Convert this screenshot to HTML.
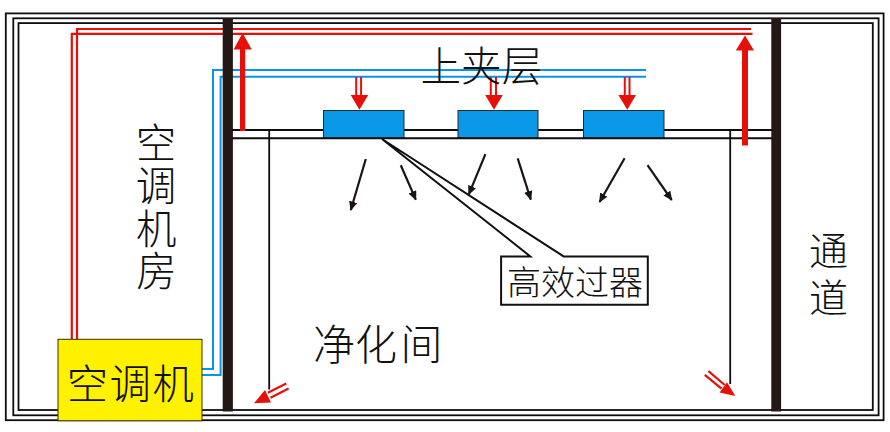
<!DOCTYPE html>
<html lang="zh-CN">
<head>
<meta charset="utf-8">
<title>净化间气流示意图</title>
<style>
html,body{margin:0;padding:0;background:#fff;}
body{width:890px;height:432px;overflow:hidden;}
svg{display:block;}
text{font-family:"Liberation Sans","Noto Sans CJK SC",sans-serif;font-weight:300;fill:#111;}
</style>
</head>
<body>
<svg width="890" height="432" viewBox="0 0 890 432">
<defs>
<marker id="ah" viewBox="0 0 9.5 8.4" refX="8.5" refY="4.2" markerWidth="9.5" markerHeight="8.4" orient="auto" markerUnits="userSpaceOnUse">
<path d="M0,0 L9.5,4.2 L0,8.4 Z" fill="#1a1413"/>
</marker>
</defs>
<rect x="0" y="0" width="890" height="432" fill="#ffffff"/>

<!-- outer triple frame -->
<g fill="none" stroke="#0d0d0d" stroke-width="1.8">
<rect x="5.8" y="13.4" width="877.8" height="406.8"/>
<rect x="13.3" y="18.3" width="865.3" height="397"/>
<rect x="18.5" y="23.1" width="854.3" height="386.9"/>
</g>

<!-- red supply ducts -->
<g fill="none" stroke="#e60f0a" stroke-width="2.2">
<path d="M77,339 V29 H751"/>
<path d="M71.8,339 V33.8 H752.5"/>
</g>

<!-- blue return ducts -->
<g fill="none" stroke="#0a94e6" stroke-width="2">
<path d="M202,369.1 H213 V70 H646"/>
<path d="M202,375 H220.6 V76.8 H646"/>
</g>

<!-- thick partition walls -->
<rect x="222.7" y="18" width="10.2" height="393.5" fill="#231815"/>
<rect x="771.3" y="18" width="9.8" height="393.5" fill="#231815"/>

<!-- ceiling -->
<g fill="none" stroke="#0d0d0d" stroke-width="1.8">
<path d="M232,130 H772"/>
<path d="M269.2,130 V389.4" stroke-width="1.8"/>
<path d="M730.2,130 V384" stroke-width="1.8"/>
</g>

<!-- filters -->
<g fill="#0a98e8" stroke="#2a2a2a" stroke-width="1">
<rect x="323.5" y="110.5" width="80.5" height="27.5"/>
<rect x="458" y="110.5" width="80" height="27.5"/>
<rect x="583.5" y="110.5" width="80.5" height="27.5"/>
</g>

<path d="M232,138.3 H772" fill="none" stroke="#0d0d0d" stroke-width="1.9"/>

<!-- big red arrows -->
<g fill="#e60f0a">
<path d="M240,131 V49.6 H233.6 L242.6,33 L251.8,49.6 H245.2 V131 Z"/>
<path d="M742,145.5 V50.6 H735.8 L745,35.6 L754,50.6 H748 V145.5 Z"/>
</g>

<!-- small red arrows on filters -->
<g stroke="#e60f0a" stroke-width="2" fill="#e60f0a">
<path d="M356.2,77 V97 M361.1,77 V97" fill="none"/>
<path d="M350.7,95 H368.3 L359.4,109.8 Z" stroke="none"/>
<path d="M490.8,77 V97 M496,77 V97" fill="none"/>
<path d="M485.2,95 H502.8 L494,109.8 Z" stroke="none"/>
<path d="M624.8,77 V97 M629.5,77 V97" fill="none"/>
<path d="M618.4,95 H636 L627.3,109.8 Z" stroke="none"/>
</g>

<!-- diagonal red arrows -->
<g stroke="#e60f0a" stroke-width="2.2" fill="#e60f0a">
<path d="M286.3,383.4 L267.8,392.7 M288.6,388.5 L270.5,397.8" fill="none"/>
<path d="M253.9,403.3 L265,389.9 L271,402.4 Z" stroke="none"/>
<path d="M708.5,371.1 L724.7,385 M704.8,374.8 L721.5,388.7" fill="none"/>
<path d="M735.4,396.1 L727,382.2 L719.6,392.4 Z" stroke="none"/>
</g>

<!-- callout -->
<path d="M382,139 L563.6,256.4 H647.8 V304.7 H501.1 V256.4 H530.3 Z" fill="#ffffff" stroke="#111" stroke-width="2" stroke-linejoin="miter"/>
<text x="507" y="294.5" font-size="34">高效过器</text>

<!-- black airflow arrows -->
<g stroke="#1a1413" stroke-width="2.2" fill="none" marker-end="url(#ah)">
<path d="M365.8,159 L350.8,210"/>
<path d="M400.8,165.2 L415.8,199.6"/>
<path d="M485.4,154.2 L468.8,194.4"/>
<path d="M517.7,158.3 L530.8,199.6"/>
<path d="M624.6,158.3 L599.6,202"/>
<path d="M647.5,165.2 L671.7,200"/>
</g>

<!-- yellow unit -->
<rect x="58" y="339.3" width="144" height="81.5" fill="#fff100" stroke="#3a3000" stroke-width="1"/>
<text x="66.8" y="398.6" font-size="41.4" letter-spacing="1.4">空调机</text>

<!-- labels -->
<text x="420.5" y="81" font-size="40.6">上夹层</text>
<text x="313" y="360" font-size="42">净化<tspan dx="3.6">间</tspan></text>
<g font-size="40.5" text-anchor="middle">
<text x="156" y="158.2">空</text>
<text x="156" y="200.5">调</text>
<text x="156.3" y="243.6">机</text>
<text x="156.5" y="286.2">房</text>
</g>
<g font-size="39" text-anchor="middle">
<text x="828.5" y="265.4">通</text>
<text x="828.5" y="312">道</text>
</g>
</svg>
</body>
</html>
